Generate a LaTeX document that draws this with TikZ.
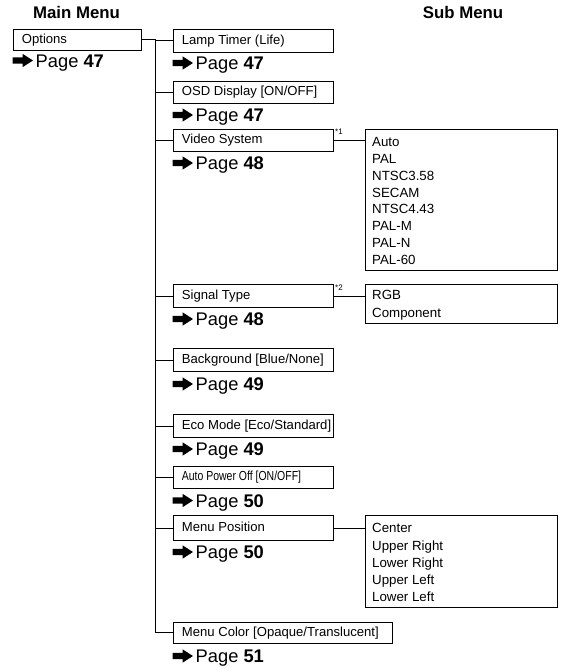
\documentclass[tikz,border=0pt]{standalone}
\usepackage{fontspec}
\setmainfont{Liberation Sans}
\newfontfamily\narrowfont{Liberation Sans}[FakeStretch=0.8]
\tikzset{
  box/.style={draw, line width=0.8pt, inner xsep=9pt, inner ysep=0pt,
    text height=9.6pt, text depth=2.8pt, font=\fontsize{13.1}{16}\selectfont},
  subbox/.style={draw, line width=0.8pt, inner sep=0pt, anchor=north west},
  subitem/.style={anchor=base west, inner sep=0pt, font=\fontsize{13.3}{16}\selectfont},
  pg/.style={anchor=base west, inner sep=0pt, font=\fontsize{18.3}{20}\selectfont},
  heading/.style={anchor=base, inner sep=0pt, font=\fontsize{16.8}{18}\selectfont\bfseries},
  note/.style={anchor=north west, inner sep=0.5pt, font=\fontsize{8}{9}\selectfont},
  conn/.style={line width=0.8pt}
}
\newcommand\itembox[6]{%
  \pgfmathsetmacro\myboxh{#5-#3}%
  \pgfmathsetmacro\myboxt{#4-#2-18}%
  \node[box, minimum height=\myboxh pt, anchor=north west] (#1) at (#2,#3)
    {\makebox[\myboxt pt][l]{#6}};%
}
\newcommand\pageline[4]{%
  \node[pg] (#1) at (#2+23,#3+6.5) {Page \textbf{#4}};%
  \fill (#2,#3-3.2) -- (#2+10,#3-3.2) -- (#2+10,#3-6.7) -- (#2+20.5,#3)
        -- (#2+10,#3+6.7) -- (#2+10,#3+3.2) -- (#2,#3+3.2) -- cycle;%
}
\begin{document}
\begin{tikzpicture}[x=1pt,y=-1pt]
\useasboundingbox (0,0) rectangle (562,667);
% headings
\node[heading] (hmain) at (76.5,18.3) {Main Menu};
\node[heading] (hsub) at (463,18.3) {Sub Menu};
% main menu
\itembox{opt}{12.5}{29}{140.5}{49.5}{Options}
\pageline{popt}{12.5}{60.5}{47}
% items
\itembox{lamp}{172.5}{29}{333}{51.5}{Lamp Timer (Life)}
\pageline{plamp}{172.5}{63}{47}
\itembox{osd}{172.5}{80.5}{333}{103}{OSD Display [ON/OFF]}
\pageline{posd}{172.5}{115}{47}
\itembox{video}{172.5}{128.5}{333}{151}{Video System}
\pageline{pvideo}{172.5}{163}{48}
\itembox{signal}{172.5}{284}{333}{307}{Signal Type}
\pageline{psignal}{172.5}{319}{48}
\itembox{bg}{172.5}{348}{333}{371}{Background [Blue/None]}
\pageline{pbg}{172.5}{384}{49}
\itembox{eco}{172.5}{414}{333}{437}{Eco Mode [Eco/Standard]}
\pageline{peco}{172.5}{449}{49}
\itembox{apo}{172.5}{466}{333}{488}{{\narrowfont Auto Power Off [ON/OFF]}}
\pageline{papo}{172.5}{500.5}{50}
\itembox{mpos}{172.5}{515}{333}{540}{Menu Position}
\pageline{pmpos}{172.5}{552}{50}
\itembox{mcol}{172.5}{622}{392}{642.5}{Menu Color [Opaque/Translucent]}
\pageline{pmcol}{172.5}{656}{51}
% notes
\node[note] (n1) at (334.5,128.5) {*1};
\node[note] (n2) at (334.5,284) {*2};
% sub menus
\node[subbox, minimum width=192pt, minimum height=141.5pt] (vsub) at (365,128.5) {};
\foreach \t [count=\i from 0] in {Auto,PAL,NTSC3.58,SECAM,NTSC4.43,PAL-M,PAL-N,PAL-60}
  \node[subitem] (v\i) at (372,146.7+16.8*\i) {\t};
\node[subbox, minimum width=192pt, minimum height=39pt] (ssub) at (365,284) {};
\node[subitem] (s0) at (372,299.8) {RGB};
\node[subitem] (s1) at (372,317.3) {Component};
\node[subbox, minimum width=192pt, minimum height=92pt] (msub) at (365,515) {};
\foreach \t [count=\i from 0] in {Center,Upper Right,Lower Right,Upper Left,Lower Left}
  \node[subitem] (m\i) at (372,532.8+17.2*\i) {\t};
% connectors
\coordinate (trunk) at (155,0);
\draw[conn] (opt.east) -- (trunk |- opt.east) |- (mcol.west);
\foreach \n in {lamp,osd,video,signal,bg,eco,apo,mpos}
  \draw[conn] (trunk |- \n.west) -- (\n.west);
\draw[conn] (video.east) -- (video.east -| vsub.west);
\draw[conn] (signal.east) -- (signal.east -| ssub.west);
\draw[conn] (mpos.east) -- (mpos.east -| msub.west);
\end{tikzpicture}
\end{document}
